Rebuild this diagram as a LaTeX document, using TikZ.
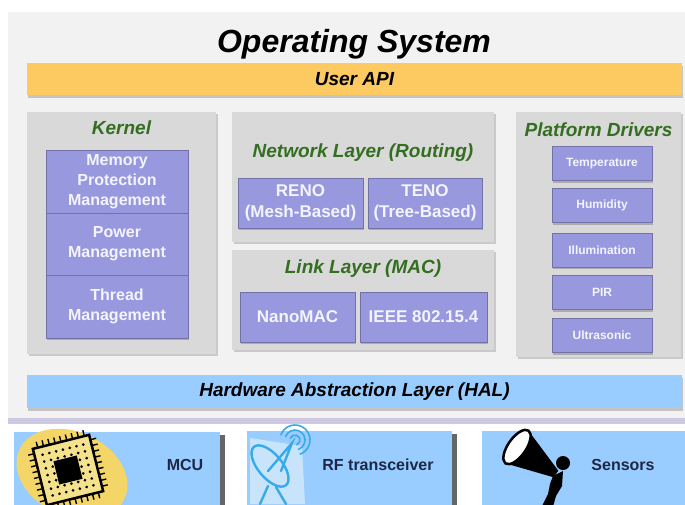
\documentclass[tikz,border=0pt]{standalone}
\usepackage{fontspec}
\setmainfont{Liberation Sans}
\usetikzlibrary{shadows}
\definecolor{osgray}{RGB}{242,242,242}
\definecolor{laygray}{RGB}{217,217,217}
\definecolor{apiorange}{RGB}{253,202,98}
\definecolor{halblue}{RGB}{153,204,255}
\definecolor{lav}{RGB}{152,152,222}
\definecolor{lavtext}{RGB}{244,244,255}
\definecolor{layergreen}{RGB}{52,110,32}
\definecolor{hwtext}{RGB}{30,40,70}
\definecolor{chipyellow}{RGB}{244,226,140}
\definecolor{chipglow}{RGB}{244,214,104}
\definecolor{dishblue}{RGB}{55,170,235}
\definecolor{dishpale}{RGB}{200,228,250}
\definecolor{sepline}{RGB}{205,200,225}
\begin{document}
\begin{tikzpicture}[x=1pt,y=-1pt,
    layer/.style={fill=laygray,inner sep=0pt,
      drop shadow={shadow xshift=2pt,shadow yshift=-2pt,opacity=.35}},
    bar/.style={inner sep=0pt,minimum height=32pt,minimum width=655pt,
      font=\bfseries\itshape\fontsize{19}{22}\selectfont,
      drop shadow={shadow xshift=1pt,shadow yshift=-3pt,opacity=.4}},
    ltitle/.style={text=layergreen,font=\bfseries\itshape\fontsize{19}{22}\selectfont},
    pbox/.style={fill=lav,draw=lav!75!black,text=lavtext,align=center,inner sep=0pt,
      font=\bfseries\fontsize{17}{21}\selectfont,
      drop shadow={shadow xshift=1pt,shadow yshift=-2pt,opacity=.5}},
    kbox/.style={pbox,minimum width=142pt,font=\bfseries\fontsize{16}{20}\selectfont},
    dbox/.style={pbox,minimum width=100pt,minimum height=34pt,font=\bfseries\fontsize{12}{14}\selectfont},
    hwbox/.style={fill=halblue,inner sep=0pt,minimum height=81pt,
      drop shadow={shadow xshift=5pt,shadow yshift=-3pt,fill=black!75,opacity=.8}},
    hwlabel/.style={text=hwtext,font=\bfseries\fontsize{16}{19}\selectfont},
    dish/.style={draw=dishblue,line width=2.4pt,line cap=round}]
  \clip (0,0) rectangle (685,504);
  \fill[white] (0,0) rectangle (685,504);
  \node[fill=osgray,inner sep=0pt,minimum width=680pt,minimum height=406pt,
    drop shadow={shadow xshift=0pt,shadow yshift=-6pt,fill=sepline,opacity=1}] (os) at (348,215) {};
  \node[font=\bfseries\itshape\fontsize{32}{36}\selectfont] (ostitle) at (354,44) {Operating System};
  \node[bar,fill=apiorange] (api) at (354.5,79) {User API};

  \node[layer,minimum width=189pt,minimum height=242pt] (kernel) at (121.5,233) {};
  \node[ltitle] (kerneltitle) at (121.5,128) {Kernel};
  \node[kbox,minimum height=63pt] (mem) at (117,181.5) {Memory\\Protection\\Management};
  \node[kbox,minimum height=62pt] (power) at (117,244) {Power\\Management};
  \node[kbox,minimum height=63pt] (thread) at (117,306.5) {Thread\\Management};

  \node[layer,minimum width=262pt,minimum height=130pt] (net) at (363,177) {};
  \node[ltitle] (nettitle) at (363,153) {Network Layer (Routing)};
  \node[pbox,minimum width=125pt,minimum height=50pt] (reno) at (300.5,203) {RENO\\(Mesh-Based)};
  \node[pbox,minimum width=114pt,minimum height=50pt] (teno) at (425,203) {TENO\\(Tree-Based)};

  \node[layer,minimum width=262pt,minimum height=100pt] (link) at (363,300) {};
  \node[ltitle] (linktitle) at (363,269) {Link Layer (MAC)};
  \node[pbox,minimum width=115pt,minimum height=50pt] (nanomac) at (297.5,317) {NanoMAC};
  \node[pbox,minimum width=127pt,minimum height=50pt] (ieee) at (423.5,317) {IEEE 802.15.4};

  \node[layer,minimum width=165pt,minimum height=245pt] (drivers) at (598.5,234.5) {};
  \node[ltitle] (driverstitle) at (598.5,130) {Platform Drivers};
  \node[dbox] (temp) at (602,163.5) {Temperature};
  \node[dbox] (humid) at (602,205.5) {Humidity};
  \node[dbox] (illum) at (602,250) {Illumination};
  \node[dbox] (pir) at (602,292.5) {PIR};
  \node[dbox] (ultra) at (602,335.5) {Ultrasonic};

  \node[bar,fill=halblue,minimum height=33pt] (hal) at (354.5,391.5) {Hardware Abstraction Layer (HAL)};

  \node[hwbox,minimum width=206pt] (mcu) at (117,472.5) {};
  \node[hwbox,minimum width=205pt] (rf) at (349.5,471.5) {};
  \node[hwbox,minimum width=208pt] (sens) at (586,471.5) {};
  \node[hwlabel] (mculabel) at (185,465) {MCU};
  \node[hwlabel] (rflabel) at (378,465) {RF transceiver};
  \node[hwlabel] (senslabel) at (623,465) {Sensors};

  % chip
  \fill[chipglow] (72,474) ellipse [x radius=58,y radius=42,rotate=-25];
  \begin{scope}[shift={(68,470)},rotate=14]
    \foreach \k in {-4,...,4} {
      \draw[line width=1.4pt] (\k*6,-29) -- (\k*6,-35);
      \draw[line width=1.4pt] (\k*6,29) -- (\k*6,35);
      \draw[line width=1.4pt] (-29,\k*6) -- (-35,\k*6);
      \draw[line width=1.4pt] (29,\k*6) -- (35,\k*6);
    }
    \draw[fill=chipyellow,line width=2.5pt] (-29,-29) rectangle (29,29);
    \foreach \i in {-3,...,3}
      \foreach \j in {-3,...,3}
        \fill (\i*7,\j*7) circle (1.5);
    \fill (-12,-12) rectangle (12,12);
  \end{scope}

  % dish
  \fill[dishpale] (250,438) -- (302,446) -- (305,504) -- (250,504) -- cycle;
  \draw[dish] (270,466) ellipse [x radius=25,y radius=12,rotate=-50];
  \draw[dish] (268,471) -- (292,443) -- (281,471);
  \foreach \r in {5,10,15}
    \draw[dish,line width=1.6pt] (295,440) ++(-160:\r) arc[start angle=-160,end angle=70,radius=\r];
  \draw[dish] (268,486) -- (260,504);
  \draw[dish] (276,487) -- (286,504);

  % megaphone
  \fill (505.6,463.4) -- (528.4,430.6) -- (558.3,470.7) -- (553.7,477.3) -- cycle;
  \draw[fill=white,line width=2.5pt] (517,447) ellipse [x radius=9,y radius=20,rotate=-35];
  \fill (563,463) circle (7);
  \fill (553,476) -- (563,471) -- (562,486) -- (556,496) -- (552,510) -- (540,510) -- (548,494) -- (550,484) -- cycle;
\end{tikzpicture}
\end{document}
